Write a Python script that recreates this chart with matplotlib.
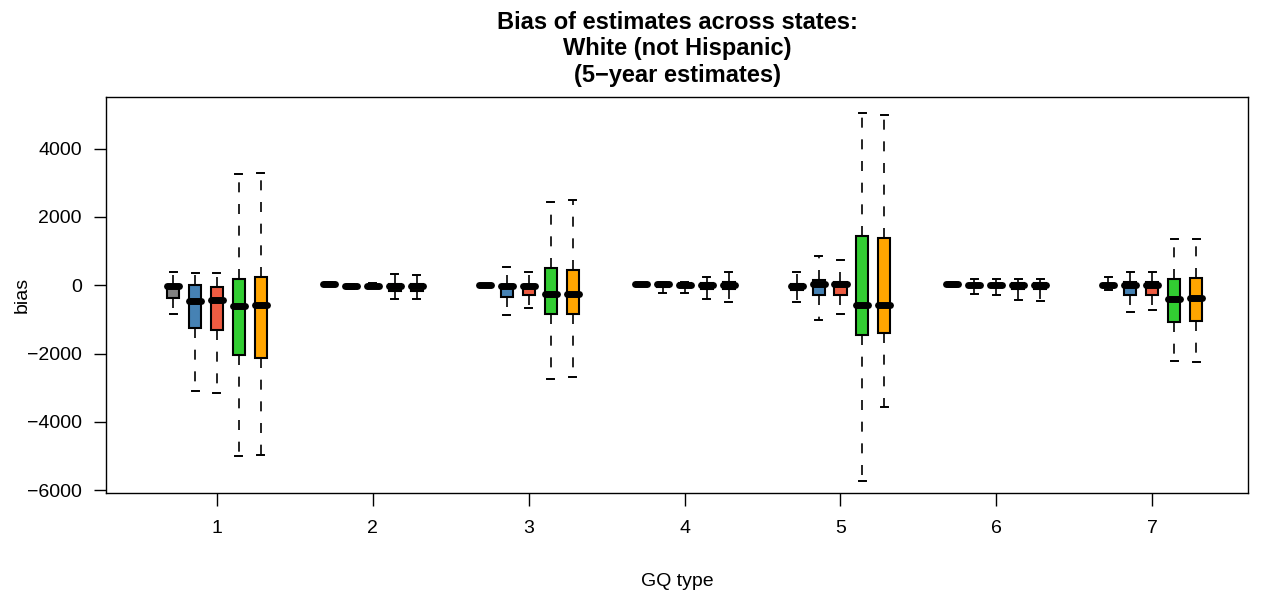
import matplotlib
matplotlib.use("Agg")
import matplotlib.pyplot as plt

plt.rcParams['font.family'] = ['Liberation Sans', 'DejaVu Sans']

groups = [1, 2, 3, 4, 5, 6, 7]
series_colors = ["#808080", "#4682B4", "#EE5C42", "#32CD32", "#FFA500"]

# per series: one value per GQ type (1..7)
whislo = [
    [-830, 0, 0, -20, -490, -40, -130],
    [-3095, -100, -880, -225, -1005, -245, -780],
    [-3150, -90, -680, -225, -830, -275, -730],
    [-5010, -410, -2760, -410, -5730, -440, -2230],
    [-4980, -410, -2680, -490, -3580, -460, -2250],
]
q1 = [
    [-360, 20, 10, 0, -150, 0, -60],
    [-1250, -60, -340, -60, -290, -60, -290],
    [-1320, -50, -290, -60, -290, -60, -290],
    [-2050, -180, -850, -100, -1465, -100, -1090],
    [-2120, -170, -850, -120, -1395, -100, -1045],
]
med = [
    [-20, 40, 20, 30, -20, 30, 0],
    [-460, -20, -30, 30, 30, 0, 0],
    [-440, -10, -30, 20, 30, 0, 0],
    [-605, -30, -245, 0, -565, 0, -390],
    [-565, -20, -245, 0, -565, 0, -370],
]
q3 = [
    [20, 60, 30, 50, 40, 60, 40],
    [0, 10, 10, 60, 145, 50, 100],
    [-50, 20, 10, 60, 100, 50, 100],
    [195, 40, 490, 60, 1435, 60, 195],
    [245, 40, 460, 80, 1395, 60, 225],
]
whishi = [
    [390, 80, 50, 70, 390, 80, 245],
    [360, 50, 520, 80, 850, 195, 390],
    [360, 60, 400, 80, 730, 195, 390],
    [3250, 340, 2440, 245, 5030, 195, 1365],
    [3300, 290, 2490, 390, 4980, 195, 1365],
]

fig = plt.figure(figsize=(12.62, 6.0), dpi=100)
ax = fig.add_axes([0.084, 0.178, 0.905, 0.660])

offset = 0.141
bw = 0.077
for s, col in enumerate(series_colors):
    stats = []
    pos = []
    for g_i, g in enumerate(groups):
        stats.append(dict(whislo=whislo[s][g_i], q1=q1[s][g_i], med=med[s][g_i],
                          q3=q3[s][g_i], whishi=whishi[s][g_i], fliers=[]))
        pos.append(g + (s - 2) * offset)
    ax.bxp(stats, positions=pos, widths=bw, capwidths=0.045, patch_artist=True,
           showfliers=False, manage_ticks=False,
           boxprops=dict(facecolor=col, edgecolor='black', linewidth=1.5),
           whiskerprops=dict(color='black', linewidth=1.2, linestyle=(0, (6, 7))),
           capprops=dict(color='black', linewidth=1.4),
           medianprops=dict(color='black', linewidth=5.0, solid_capstyle='round'))

ax.set_xlim(0.288, 7.615)
ax.set_ylim(-6090, 5505)
ax.set_xticks(groups)
ax.set_xticklabels([str(g) for g in groups])
ax.set_yticks([-6000, -4000, -2000, 0, 2000, 4000])
ax.set_yticklabels(['\u22126000', '\u22124000', '\u22122000', '0', '2000', '4000'])
ax.tick_params(direction='out', length=9, width=1, labelsize=14, pad=8.5, colors='black')
ax.tick_params(axis='x', pad=10.5)
for sp in ax.spines.values():
    sp.set_linewidth(1.0)

ax.set_ylabel('bias', fontsize=14)
ax.yaxis.set_label_coords(-0.066, 0.5)
ax.set_xlabel('GQ type', fontsize=14, labelpad=26)
ax.set_title('Bias of estimates across states:\nWhite (not Hispanic)\n(5\u2212year estimates)',
             fontsize=17, fontweight='bold', linespacing=1.2, pad=11)

fig.savefig('out.png', dpi=100)
